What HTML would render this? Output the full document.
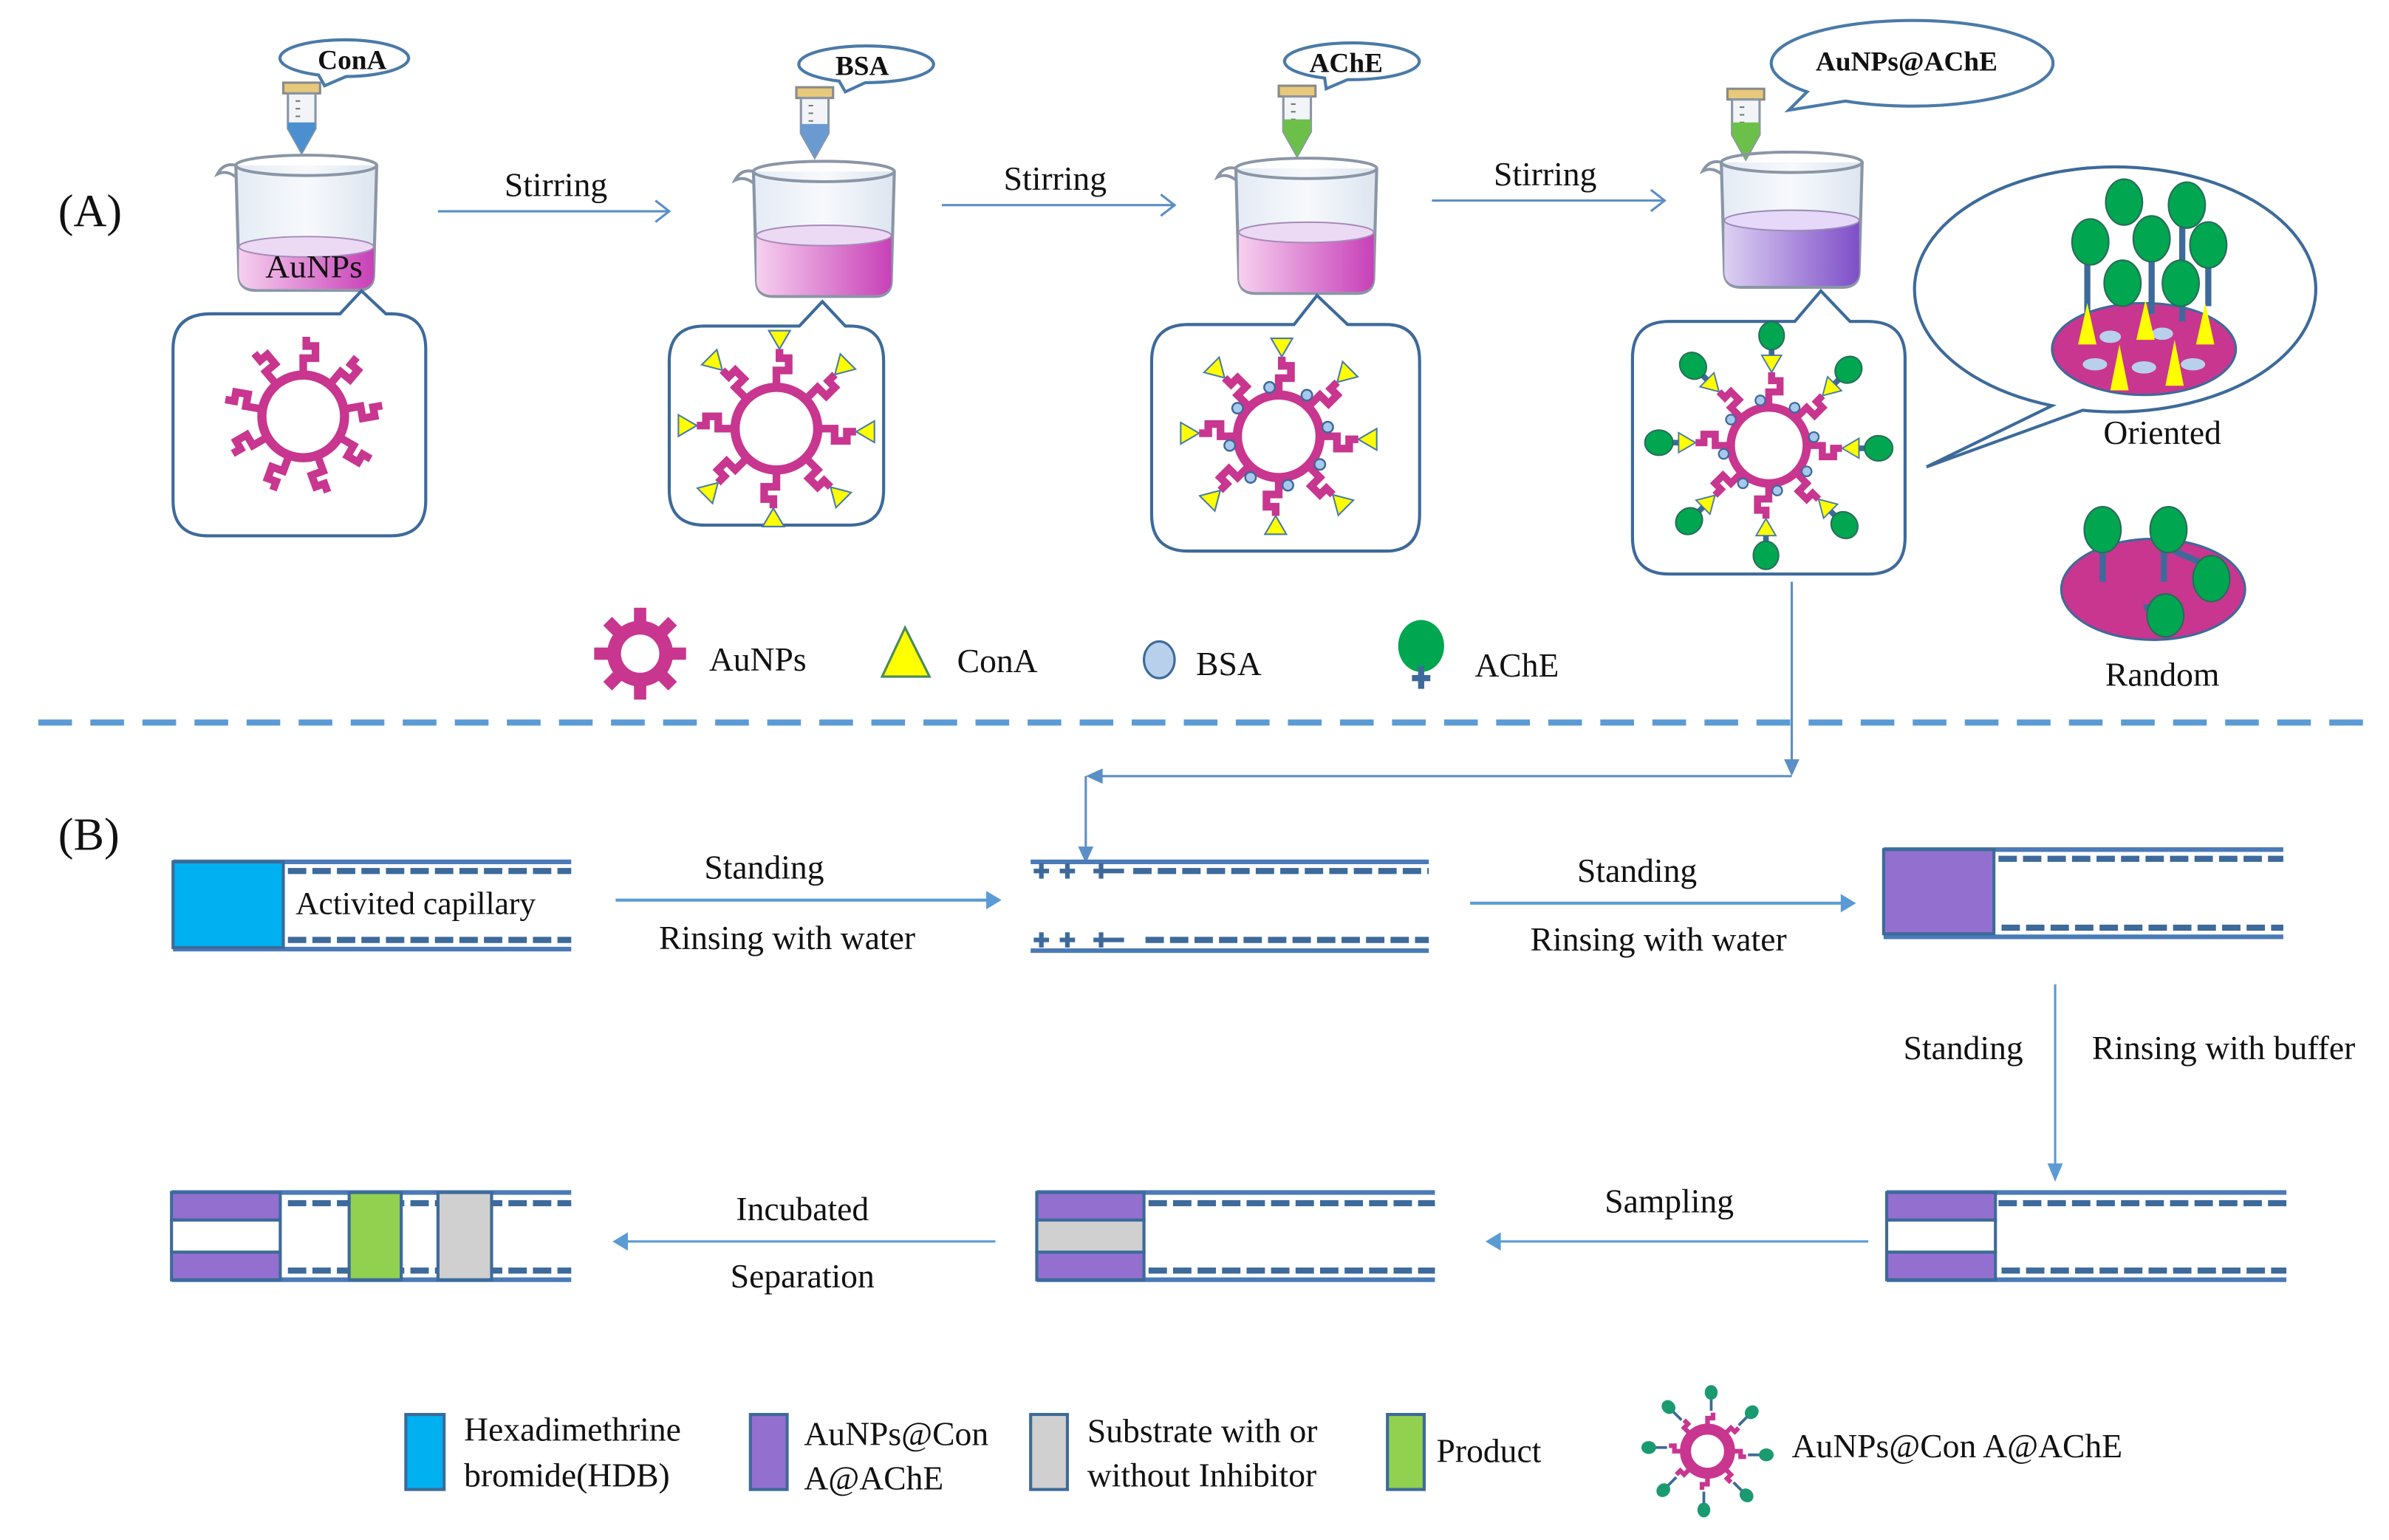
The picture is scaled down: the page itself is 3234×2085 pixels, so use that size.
<!DOCTYPE html>
<html><head><meta charset="utf-8"><style>
html,body{margin:0;padding:0;background:#fff;}
svg{display:block;font-family:"Liberation Serif","Times New Roman","Times","DejaVu Serif",serif;}
svg text{font-family:"Liberation Serif","Times New Roman","Times","DejaVu Serif",serif;fill:#111;}
</style></head><body>
<svg width="3234" height="2085" viewBox="0 0 1560 1006" preserveAspectRatio="none" xmlns="http://www.w3.org/2000/svg">
<defs>
<linearGradient id="glass" x1="0" x2="1"><stop offset="0" stop-color="#e4ebf5"/><stop offset="0.5" stop-color="#f7f9fc"/><stop offset="1" stop-color="#dde5f0"/></linearGradient>
<linearGradient id="pink" x1="0" x2="1"><stop offset="0" stop-color="#f6d0ef"/><stop offset="1" stop-color="#c840b8"/></linearGradient>
<linearGradient id="purp" x1="0" x2="1"><stop offset="0" stop-color="#dcd0f2"/><stop offset="1" stop-color="#7e4fc8"/></linearGradient>
<g id="beakerBody">
 <path d="M-46,0 L-44,75 Q-44,86 -33,86 L33,86 Q44,86 44,75 L46,0" fill="url(#glass)" stroke="#8a96a6" stroke-width="2"/>
 <path d="M-46,0 Q-54,-2 -58,6 Q-52,3 -46,8" fill="none" stroke="#8a96a6" stroke-width="2"/>
 <ellipse cx="0" cy="0" rx="46" ry="7" fill="none" stroke="#8a96a6" stroke-width="2"/>
</g>
<g id="lig"><path d="M0,-28 V-38 H8 V-46 H2 V-52" stroke="#c8368f" stroke-width="5" fill="none"/></g>
<g id="ligT"><use href="#lig"/><polygon points="2,-52 -5,-64 9,-64" fill="#ffff00" stroke="#4a7aa8" stroke-width="1"/></g>
<g id="ligB"><use href="#ligT"/><circle cx="-6" cy="-32" r="3.5" fill="#a8c8ec" stroke="#3d6a9a" stroke-width="1.2"/></g>
<g id="ligA"><use href="#ligB"/><path d="M2,-64 V-70" stroke="#3d6a9a" stroke-width="4"/><ellipse cx="2" cy="-78" rx="9" ry="10" fill="#00a650" stroke="#2a6a5a" stroke-width="1"/></g>
<g id="ligG"><path d="M0,-28 V-36 H6 V-42" stroke="#c8368f" stroke-width="5" fill="none"/><path d="M4,-44 V-58" stroke="#3d6a9a" stroke-width="3"/><ellipse cx="4" cy="-64" rx="7" ry="8" fill="#1a9a70"/></g>
<g id="tube">
 <rect x="-12" y="0" width="24" height="7" fill="#e8c87a" stroke="#8a8a8a" stroke-width="1.5"/>
 <path d="M-9,7 V30 L0,46 L9,30 V7 Z" fill="#f2f4f7" stroke="#8a96a6" stroke-width="1.5"/>
 <path d="M-4,12 h3 M-4,17 h3 M-4,22 h3" stroke="#777" stroke-width="1"/>
</g>
</defs>

<text x="38" y="148" font-size="30">(A)</text>

<g transform="translate(197,54)"><use href="#tube"/><path d="M-9,26 V30 L0,46 L9,30 V26 Z" fill="#4a8fd0"/></g>
<g transform="translate(532,57)"><use href="#tube"/><path d="M-9,24 V30 L0,46 L9,30 V24 Z" fill="#6a9ad0"/></g>
<g transform="translate(847,56)"><use href="#tube"/><path d="M-9,22 V30 L0,46 L9,30 V22 Z" fill="#6cc04a"/></g>
<g transform="translate(1140,58)"><use href="#tube"/><path d="M-9,22 V30 L0,46 L9,30 V22 Z" fill="#6cc04a"/></g>

<path d="M208,49 A42,12 0 1 1 226,50 L212,56 Z" fill="#fff" stroke="#4a7aa8" stroke-width="2"/>
<text x="230" y="45" font-size="18" font-weight="bold" text-anchor="middle">ConA</text>
<path d="M548,53 A44,12 0 1 1 565,54 L552,60 Z" fill="#fff" stroke="#4a7aa8" stroke-width="2"/>
<text x="563" y="49" font-size="18" font-weight="bold" text-anchor="middle">BSA</text>
<path d="M865,51 A44,12 0 1 1 880,52 L866,58 Z" fill="#fff" stroke="#4a7aa8" stroke-width="2"/>
<text x="879" y="47" font-size="18" font-weight="bold" text-anchor="middle">AChE</text>
<path d="M1180,60 A92,28 0 1 1 1205,66 L1168,72 Z" fill="#fff" stroke="#4a7aa8" stroke-width="2"/>
<text x="1245" y="46" font-size="18" font-weight="bold" text-anchor="middle">AuNPs@AChE</text>

<g transform="translate(200,108) scale(1,0.95)"><use href="#beakerBody"/>
 <path d="M-44,56 L-44,75 Q-44,85 -33,85 L33,85 Q44,85 44,75 L44,56 Z" fill="url(#pink)"/>
 <ellipse cx="0" cy="56" rx="44" ry="7" fill="#ecdaf5" stroke="#a88ab8" stroke-width="1"/>
 <text x="5" y="77" font-size="22" text-anchor="middle">AuNPs</text></g>
<g transform="translate(538,112) scale(1,0.95)"><use href="#beakerBody"/>
 <path d="M-44,44 L-44,75 Q-44,85 -33,85 L33,85 Q44,85 44,75 L44,44 Z" fill="url(#pink)"/>
 <ellipse cx="0" cy="44" rx="44" ry="7" fill="#ecdaf5" stroke="#a88ab8" stroke-width="1"/></g>
<g transform="translate(853,110) scale(1,0.95)"><use href="#beakerBody"/>
 <path d="M-44,44 L-44,75 Q-44,85 -33,85 L33,85 Q44,85 44,75 L44,44 Z" fill="url(#pink)"/>
 <ellipse cx="0" cy="44" rx="44" ry="7" fill="#ecdaf5" stroke="#a88ab8" stroke-width="1"/></g>
<g transform="translate(1170,106) scale(1,0.95)"><use href="#beakerBody"/>
 <path d="M-44,40 L-44,75 Q-44,85 -33,85 L33,85 Q44,85 44,75 L44,40 Z" fill="url(#purp)"/>
 <ellipse cx="0" cy="40" rx="44" ry="7" fill="#e6d8f8" stroke="#9a8ab8" stroke-width="1"/></g>

<g stroke="#5b8fc8" stroke-width="1.5" fill="none">
 <path d="M286,138 H436 M428,131 L437,138 L428,145"/>
 <path d="M615,134 H766 M758,127 L767,134 L758,141"/>
 <path d="M935,131 H1086 M1078,124 L1087,131 L1078,138"/>
</g>
<text x="363" y="128" font-size="22" text-anchor="middle">Stirring</text>
<text x="689" y="124" font-size="22" text-anchor="middle">Stirring</text>
<text x="1009" y="121" font-size="22" text-anchor="middle">Stirring</text>

<g fill="#fff" stroke="#3d6a9a" stroke-width="2">
 <path d="M138,205 H222 L236,190 L252,205 H255 Q278,205 278,228 V327 Q278,350 255,350 H136 Q113,350 113,327 V228 Q113,205 138,205 Z"/>
 <path d="M460,213 H522 L537,197 L552,213 H555 Q577,213 577,236 V320 Q577,343 555,343 H460 Q437,343 437,320 V236 Q437,213 460,213 Z"/>
 <path d="M776,212 H845 L860,193 L880,212 H905 Q927,212 927,236 V336 Q927,360 905,360 H776 Q752,360 752,336 V236 Q752,212 776,212 Z"/>
 <path d="M1090,210 H1172 L1189,190 L1208,210 H1220 Q1244,210 1244,234 V351 Q1244,375 1220,375 H1090 Q1066,375 1066,351 V234 Q1066,210 1090,210 Z"/>
</g>

<g transform="translate(198,272)">
 <circle r="27" fill="none" stroke="#c8368f" stroke-width="6"/>
 <use href="#lig" transform="rotate(0)"/><use href="#lig" transform="rotate(40)"/><use href="#lig" transform="rotate(80)"/><use href="#lig" transform="rotate(120)"/><use href="#lig" transform="rotate(160)"/><use href="#lig" transform="rotate(200)"/><use href="#lig" transform="rotate(240)"/><use href="#lig" transform="rotate(280)"/><use href="#lig" transform="rotate(320)"/>
</g>
<g transform="translate(507,280)">
 <circle r="27" fill="none" stroke="#c8368f" stroke-width="6"/>
 <use href="#ligT" transform="rotate(0)"/><use href="#ligT" transform="rotate(45)"/><use href="#ligT" transform="rotate(90)"/><use href="#ligT" transform="rotate(135)"/><use href="#ligT" transform="rotate(180)"/><use href="#ligT" transform="rotate(225)"/><use href="#ligT" transform="rotate(270)"/><use href="#ligT" transform="rotate(315)"/>
</g>
<g transform="translate(835,285)">
 <circle r="27" fill="none" stroke="#c8368f" stroke-width="6"/>
 <use href="#ligB" transform="rotate(0)"/><use href="#ligB" transform="rotate(45)"/><use href="#ligB" transform="rotate(90)"/><use href="#ligB" transform="rotate(135)"/><use href="#ligB" transform="rotate(180)"/><use href="#ligB" transform="rotate(225)"/><use href="#ligB" transform="rotate(270)"/><use href="#ligB" transform="rotate(315)"/>
</g>
<g transform="translate(1155,291) scale(0.92)">
 <circle r="27" fill="none" stroke="#c8368f" stroke-width="6"/>
 <use href="#ligA" transform="rotate(0)"/><use href="#ligA" transform="rotate(45)"/><use href="#ligA" transform="rotate(90)"/><use href="#ligA" transform="rotate(135)"/><use href="#ligA" transform="rotate(180)"/><use href="#ligA" transform="rotate(225)"/><use href="#ligA" transform="rotate(270)"/><use href="#ligA" transform="rotate(315)"/>
</g>

<path d="M1340,265 A131,80 0 1 1 1360,268 L1258,305 Z" fill="#fff" stroke="#3d6a9a" stroke-width="2"/>
<ellipse cx="1400" cy="228" rx="60" ry="30" fill="#c8368f" stroke="#3d6a9a" stroke-width="1.5"/>
<g fill="#b8d0ec"><ellipse cx="1378" cy="220" rx="7" ry="4"/><ellipse cx="1412" cy="218" rx="7" ry="4"/><ellipse cx="1368" cy="238" rx="8" ry="4"/><ellipse cx="1400" cy="240" rx="8" ry="4"/><ellipse cx="1432" cy="238" rx="8" ry="4"/></g>
<g stroke="#3d6a9a" stroke-width="4">
 <path d="M1363,160 V210 M1388,170 V200 M1405,158 V205 M1425,148 V210 M1442,160 V200 M1367,150 V170"/>
</g>
<g fill="#ffff00"><polygon points="1357,225 1363,198 1369,225"/><polygon points="1395,222 1401,196 1407,222"/><polygon points="1434,225 1440,198 1446,225"/><polygon points="1378,255 1384,225 1390,255"/><polygon points="1414,252 1420,222 1426,252"/></g>
<g fill="#00a650" stroke="#2a6a5a" stroke-width="1">
 <ellipse cx="1387" cy="132" rx="12" ry="15"/><ellipse cx="1428" cy="134" rx="12" ry="15"/>
 <ellipse cx="1365" cy="158" rx="12" ry="15"/><ellipse cx="1405" cy="156" rx="12" ry="15"/><ellipse cx="1442" cy="160" rx="12" ry="15"/>
 <ellipse cx="1386" cy="185" rx="12" ry="15"/><ellipse cx="1424" cy="185" rx="12" ry="15"/>
</g>
<text x="1412" y="290" font-size="22" text-anchor="middle">Oriented</text>

<ellipse cx="1406" cy="385" rx="60" ry="33" fill="#c8368f" stroke="#3d6a9a" stroke-width="1.5"/>
<g stroke="#3d6a9a" stroke-width="4"><path d="M1373,355 V380 M1413,355 V380 M1420,360 L1438,368 M1400,397 L1412,395"/></g>
<g fill="#00a650" stroke="#2a6a5a" stroke-width="1">
 <ellipse cx="1373" cy="346" rx="12" ry="15"/><ellipse cx="1416" cy="346" rx="12" ry="15"/><ellipse cx="1444" cy="378" rx="12" ry="15"/><ellipse cx="1414" cy="402" rx="12" ry="14"/>
</g>
<text x="1412" y="448" font-size="22" text-anchor="middle">Random</text>

<g transform="translate(418,427)">
 <circle r="17" fill="none" stroke="#c8368f" stroke-width="9"/>
 <g fill="#c8368f">
  <rect x="-4" y="-30" width="8" height="10"/><rect x="-4" y="-30" width="8" height="10" transform="rotate(45)"/><rect x="-4" y="-30" width="8" height="10" transform="rotate(90)"/><rect x="-4" y="-30" width="8" height="10" transform="rotate(135)"/><rect x="-4" y="-30" width="8" height="10" transform="rotate(180)"/><rect x="-4" y="-30" width="8" height="10" transform="rotate(225)"/><rect x="-4" y="-30" width="8" height="10" transform="rotate(270)"/><rect x="-4" y="-30" width="8" height="10" transform="rotate(315)"/>
 </g>
</g>
<text x="463" y="438" font-size="22">AuNPs</text>
<polygon points="591,410 576,442 607,442" fill="#ffff00" stroke="#4a8a5a" stroke-width="1.5"/>
<text x="625" y="439" font-size="22">ConA</text>
<ellipse cx="757" cy="431" rx="10" ry="12" fill="#b8d0ec" stroke="#3d6a9a" stroke-width="1.5"/>
<text x="781" y="441" font-size="22">BSA</text>
<ellipse cx="928" cy="422" rx="15" ry="17" fill="#00a650"/>
<path d="M928,435 V450 M922,443 H934" stroke="#3d6a9a" stroke-width="4"/>
<text x="963" y="442" font-size="22">AChE</text>

<line x1="25" y1="472" x2="1550" y2="472" stroke="#5b9bd5" stroke-width="4" stroke-dasharray="22,12"/>

<g stroke="#5b8fc8" stroke-width="1.5" fill="none">
 <path d="M1170,380 V505"/><path d="M1170,507 H712"/><path d="M709,507 V560"/>
</g>
<g fill="#5b8fc8">
 <polygon points="1165,496 1170,507 1175,496"/><polygon points="720,502 709,507 720,512"/><polygon points="704,553 709,564 714,553"/>
</g>

<text x="38" y="555" font-size="30">(B)</text>

<g stroke="#4a7ab8" stroke-width="3">
 <line x1="113" y1="563" x2="373" y2="563"/><line x1="113" y1="620" x2="373" y2="620"/>
</g>
<g stroke="#3d6a9a" stroke-width="4" stroke-dasharray="12,4">
 <line x1="188" y1="569" x2="373" y2="569"/><line x1="188" y1="614" x2="373" y2="614"/>
</g>
<rect x="113" y="563" width="72" height="56" fill="#00b0f0" stroke="#3d6a9a" stroke-width="2"/>
<text x="193" y="597" font-size="21">Activited capillary</text>

<g stroke="#5b9bd5" stroke-width="2"><line x1="402" y1="588" x2="646" y2="588"/><line x1="960" y1="590" x2="1205" y2="590"/></g>
<polygon points="644,582 654,588 644,594" fill="#5b9bd5"/><polygon points="1202,584 1212,590 1202,596" fill="#5b9bd5"/>
<text x="499" y="574" font-size="22" text-anchor="middle">Standing</text>
<text x="514" y="620" font-size="22" text-anchor="middle">Rinsing with water</text>
<text x="1069" y="576" font-size="22" text-anchor="middle">Standing</text>
<text x="1083" y="621" font-size="22" text-anchor="middle">Rinsing with water</text>

<g stroke="#4a7ab8" stroke-width="3"><line x1="673" y1="563" x2="933" y2="563"/><line x1="673" y1="621" x2="933" y2="621"/></g>
<g stroke="#3d6a9a" stroke-width="4" stroke-dasharray="12,4"><line x1="740" y1="569" x2="933" y2="569"/><line x1="748" y1="614" x2="933" y2="614"/></g>
<g stroke="#3d6a9a" stroke-width="3">
 <path d="M675,569 h10 M680,564 v10 M692,569 h10 M697,564 v10 M714,569 h20 M719,564 v10"/>
 <path d="M675,614 h10 M680,609 v10 M692,614 h10 M697,609 v10 M714,614 h20 M719,609 v10"/>
</g>

<g stroke="#4a7ab8" stroke-width="3"><line x1="1230" y1="555" x2="1491" y2="555"/><line x1="1230" y1="612" x2="1491" y2="612"/></g>
<g stroke="#3d6a9a" stroke-width="4" stroke-dasharray="12,4"><line x1="1305" y1="561" x2="1491" y2="561"/><line x1="1307" y1="606" x2="1491" y2="606"/></g>
<rect x="1230" y="555" width="72" height="55" fill="#9370d0" stroke="#3d6a9a" stroke-width="2"/>

<line x1="1342" y1="643" x2="1342" y2="762" stroke="#5b9bd5" stroke-width="1.5"/>
<polygon points="1337,760 1342,772 1347,760" fill="#5b9bd5"/>
<text x="1282" y="692" font-size="22" text-anchor="middle">Standing</text>
<text x="1452" y="692" font-size="22" text-anchor="middle">Rinsing with buffer</text>

<g stroke="#4a7ab8" stroke-width="3">
 <line x1="1232" y1="779" x2="1493" y2="779"/><line x1="1232" y1="836" x2="1493" y2="836"/>
 <line x1="677" y1="779" x2="937" y2="779"/><line x1="677" y1="836" x2="937" y2="836"/>
 <line x1="112" y1="779" x2="373" y2="779"/><line x1="112" y1="836" x2="373" y2="836"/>
</g>
<g stroke="#3d6a9a" stroke-width="4" stroke-dasharray="12,4">
 <line x1="1305" y1="786" x2="1493" y2="786"/><line x1="1307" y1="830" x2="1493" y2="830"/>
 <line x1="750" y1="786" x2="937" y2="786"/><line x1="750" y1="830" x2="937" y2="830"/>
 <line x1="188" y1="786" x2="373" y2="786"/><line x1="188" y1="830" x2="373" y2="830"/>
</g>
<g stroke="#3d6a9a" stroke-width="2">
 <rect x="1232" y="779" width="71" height="18" fill="#9370d0"/><rect x="1232" y="797" width="71" height="21" fill="#fff"/><rect x="1232" y="818" width="71" height="18" fill="#9370d0"/>
 <rect x="677" y="779" width="70" height="18" fill="#9370d0"/><rect x="677" y="797" width="70" height="21" fill="#d0d0d0"/><rect x="677" y="818" width="70" height="18" fill="#9370d0"/>
 <rect x="112" y="779" width="71" height="18" fill="#9370d0"/><rect x="112" y="797" width="71" height="21" fill="#fff"/><rect x="112" y="818" width="71" height="18" fill="#9370d0"/>
 <rect x="228" y="779" width="34" height="57" fill="#92d050"/>
 <rect x="286" y="779" width="35" height="57" fill="#d0d0d0"/>
</g>

<g stroke="#5b9bd5" stroke-width="1.5"><line x1="978" y1="811" x2="1220" y2="811"/><line x1="408" y1="811" x2="650" y2="811"/></g>
<polygon points="980,805 970,811 980,817" fill="#5b9bd5"/><polygon points="410,805 400,811 410,817" fill="#5b9bd5"/>
<text x="1090" y="792" font-size="22" text-anchor="middle">Sampling</text>
<text x="524" y="797" font-size="22" text-anchor="middle">Incubated</text>
<text x="524" y="841" font-size="22" text-anchor="middle">Separation</text>

<g stroke="#3d6a9a" stroke-width="2">
 <rect x="265" y="924" width="25" height="49" fill="#00b0f0"/>
 <rect x="490" y="924" width="24" height="49" fill="#9370d0"/>
 <rect x="673" y="924" width="24" height="49" fill="#d0d0d0"/>
 <rect x="906" y="924" width="24" height="49" fill="#92d050"/>
</g>
<text x="303" y="941" font-size="22">Hexadimethrine</text>
<text x="303" y="971" font-size="22">bromide(HDB)</text>
<text x="525" y="944" font-size="22">AuNPs@Con</text>
<text x="525" y="973" font-size="22">A@AChE</text>
<text x="710" y="942" font-size="22">Substrate with or</text>
<text x="710" y="971" font-size="22">without Inhibitor</text>
<text x="938" y="955" font-size="22">Product</text>

<g transform="translate(1115,948) scale(0.6)">
 <circle r="24" fill="none" stroke="#c8368f" stroke-width="12"/>
 <use href="#ligG" transform="rotate(0)"/><use href="#ligG" transform="rotate(45)"/><use href="#ligG" transform="rotate(90)"/><use href="#ligG" transform="rotate(135)"/><use href="#ligG" transform="rotate(180)"/><use href="#ligG" transform="rotate(225)"/><use href="#ligG" transform="rotate(270)"/><use href="#ligG" transform="rotate(315)"/>
</g>
<text x="1170" y="952" font-size="22">AuNPs@Con A@AChE</text>
</svg>
</body></html>
